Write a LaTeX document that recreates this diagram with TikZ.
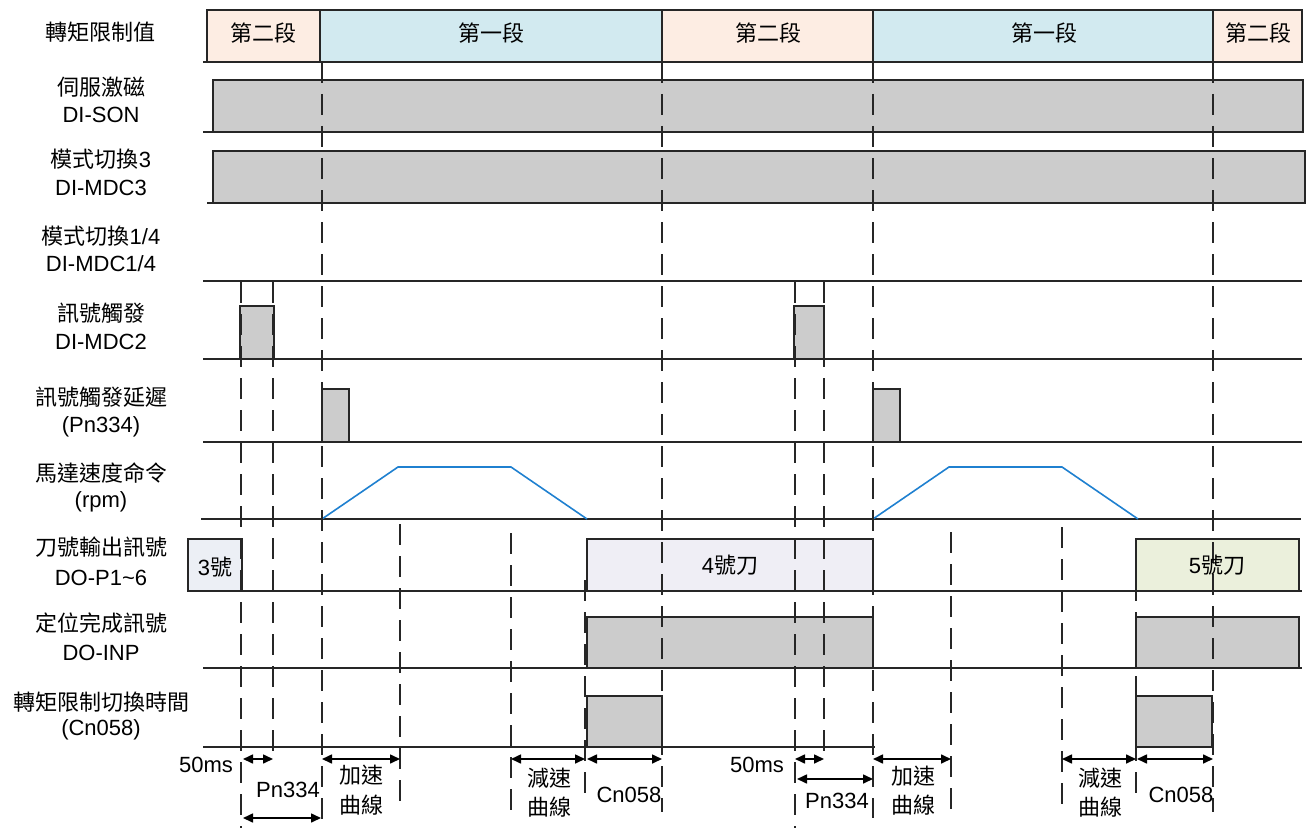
\documentclass[tikz,border=0pt]{standalone}
\usepackage{fontspec}
\setmainfont{Liberation Sans}
\newfontfamily\cjk{Noto Sans CJK TC}
\usetikzlibrary{arrows.meta}
\definecolor{peach}{RGB}{253,237,227}
\definecolor{lblue}{RGB}{210,234,240}
\definecolor{sgray}{RGB}{204,204,204}
\definecolor{lav}{RGB}{239,238,245}
\definecolor{lgreen}{RGB}{235,240,220}
\definecolor{ltool}{RGB}{236,239,245}
\definecolor{spblue}{RGB}{31,128,208}
\begin{document}
\begin{tikzpicture}[x=0.5pt,y=-0.5pt,
  tbox/.style={draw=black!85,line width=0.9pt},
  sig/.style={fill=sgray,draw=black!85,line width=0.9pt},
  base/.style={draw=black!85,line width=0.8pt},
  dsh/.style={draw=black!85,line width=0.9pt,dash pattern=on 10.5pt off 5.5pt},
  dim/.style={{Triangle[length=5pt,width=4.5pt]}-{Triangle[length=5pt,width=4.5pt]},line width=0.8pt},
  spd/.style={draw=spblue,line width=0.8pt},
  txt/.style={inner sep=0pt,anchor=base,font=\fontsize{11pt}{13pt}\selectfont}]
\useasboundingbox (0,0) rectangle (1312,840);
% ---------- row 1: torque limit ----------
\draw[tbox,fill=peach] (207,10) rectangle (320,62);
\draw[tbox,fill=lblue] (320,10) rectangle (662,62);
\draw[tbox,fill=peach] (662,10) rectangle (873,62);
\draw[tbox,fill=lblue] (873,10) rectangle (1213,62);
\draw[tbox,fill=peach] (1213,10) rectangle (1302,62);
\draw[base] (203,62) -- (1302,62);
% ---------- row 2: DI-SON ----------
\draw[sig] (213,80) rectangle (1303,132);
\draw[base] (203,132) -- (1303,132);
% ---------- row 3: DI-MDC3 ----------
\draw[sig] (213,151) rectangle (1305,203);
\draw[base] (207,203) -- (1305,203);
% ---------- row 4 ----------
\draw[base] (203,281) -- (1302,281);
% ---------- row 5: DI-MDC2 ----------
\draw[sig] (240,306) rectangle (274,359);
\draw[sig] (794,306) rectangle (824,359);
\draw[base] (203,359) -- (1302,359);
% ---------- row 6: Pn334 ----------
\draw[sig] (322,389) rectangle (349,442);
\draw[sig] (873,389) rectangle (900,442);
\draw[base] (203,442) -- (1302,442);
% ---------- row 7: speed ----------
\draw[base] (201,519) -- (1301,519);
\draw[spd] (322,519) -- (398,467) -- (511,467) -- (587,519);
\draw[spd] (873,519) -- (949,467) -- (1062,467) -- (1138,519);
% ---------- row 8: tool number ----------
\draw[tbox,fill=ltool] (188,539) rectangle (242,591);
\draw[tbox,fill=lav] (587,539) rectangle (873,591);
\draw[tbox,fill=lgreen] (1136,539) rectangle (1299,591);
\draw[base] (188,591) -- (1302,591);
% ---------- row 9: DO-INP ----------
\draw[sig] (587,617) rectangle (873,668);
\draw[sig] (1136,617) rectangle (1299,668);
\draw[base] (203,668) -- (1302,668);
% ---------- row 10: Cn058 ----------
\draw[sig] (587,696) rectangle (662,747);
\draw[sig] (1136,696) rectangle (1212,747);
\draw[base] (203,747) -- (875,747);
% ---------- dashed time marks ----------
\draw[dsh] (241,282) -- (241,828);
\draw[dsh] (273,282) -- (273,760);
\draw[dsh] (322,62) -- (322,825);
\draw[dsh] (400,524) -- (400,807);
\draw[dsh] (511,533) -- (511,812);
\draw[dsh] (585,580) -- (585,800);
\draw[dsh] (662,62) -- (662,812);
\draw[dsh] (795,282) -- (795,828);
\draw[dsh] (824,282) -- (824,760);
\draw[dsh] (873,62) -- (873,818);
\draw[dsh] (951,532) -- (951,812);
\draw[dsh] (1062,527) -- (1062,812);
\draw[dsh] (1136,580) -- (1136,800);
\draw[dsh] (1213,62) -- (1213,812);
% ---------- dimension arrows ----------
\draw[dim] (243,759) -- (273,759);
\draw[dim] (243,818) -- (321,818);
\draw[dim] (322,759) -- (400,759);
\draw[dim] (511,759) -- (585,759);
\draw[dim] (587,759) -- (662,759);
\draw[dim] (795,759) -- (824,759);
\draw[dim] (797,779) -- (873,779);
\draw[dim] (873,759) -- (951,759);
\draw[dim] (1062,759) -- (1136,759);
\draw[dim] (1137,759) -- (1213,759);
% ---------- box texts ----------
\node[txt] (s1) at (263,41.5) {\cjk 第二段};
\node[txt] (s2) at (491,41.5) {\cjk 第一段};
\node[txt] (s3) at (768,41.5) {\cjk 第二段};
\node[txt] (s4) at (1044,41.5) {\cjk 第一段};
\node[txt] (s5) at (1258,41.5) {\cjk 第二段};
\node[txt] (k3) at (215,575) {3{\cjk 號}};
\node[txt] (k4) at (730,573) {4{\cjk 號刀}};
\node[txt] (k5) at (1217,573) {5{\cjk 號刀}};
% ---------- left labels ----------
\node[txt] (la) at (101,40.5) {\cjk 轉矩限制值};
\node[txt] (lb1) at (101,95.5) {\cjk 伺服激磁};
\node[txt] (lb2) at (101,123) {DI-SON};
\node[txt] (lc1) at (101,167.5) {{\cjk 模式切換}3};
\node[txt] (lc2) at (101,195) {DI-MDC3};
\node[txt] (ld1) at (101,244.5) {{\cjk 模式切換}1/4};
\node[txt] (ld2) at (101,271.5) {DI-MDC1/4};
\node[txt] (le1) at (101,321.5) {\cjk 訊號觸發};
\node[txt] (le2) at (101,349) {DI-MDC2};
\node[txt] (lf1) at (101,405.5) {\cjk 訊號觸發延遲};
\node[txt] (lf2) at (101,432) {(Pn334)};
\node[txt] (lg1) at (101,481.5) {\cjk 馬達速度命令};
\node[txt] (lg2) at (101,507.5) {(rpm)};
\node[txt] (lh1) at (101,555.5) {\cjk 刀號輸出訊號};
\node[txt] (lh2) at (101,585) {DO-P1\textasciitilde6};
\node[txt] (li1) at (101,631.5) {\cjk 定位完成訊號};
\node[txt] (li2) at (101,660) {DO-INP};
\node[txt] (lj1) at (101,710.5) {\cjk 轉矩限制切換時間};
\node[txt] (lj2) at (101,735.5) {(Cn058)};
% ---------- dimension labels ----------
\node[txt] (m1) at (206,772) {50ms};
\node[txt] (m2) at (288,797) {Pn334};
\node[txt] (m3a) at (361,783.5) {\cjk 加速};
\node[txt] (m3b) at (361,813) {\cjk 曲線};
\node[txt] (m4a) at (549,786) {\cjk 減速};
\node[txt] (m4b) at (549,815) {\cjk 曲線};
\node[txt] (m5) at (629,802) {Cn058};
\node[txt] (m6) at (757,772) {50ms};
\node[txt] (m7) at (837,808) {Pn334};
\node[txt] (m8a) at (913,784) {\cjk 加速};
\node[txt] (m8b) at (913,813) {\cjk 曲線};
\node[txt] (m9a) at (1100,786) {\cjk 減速};
\node[txt] (m9b) at (1100,815) {\cjk 曲線};
\node[txt] (m10) at (1181,802) {Cn058};
\end{tikzpicture}
\end{document}
